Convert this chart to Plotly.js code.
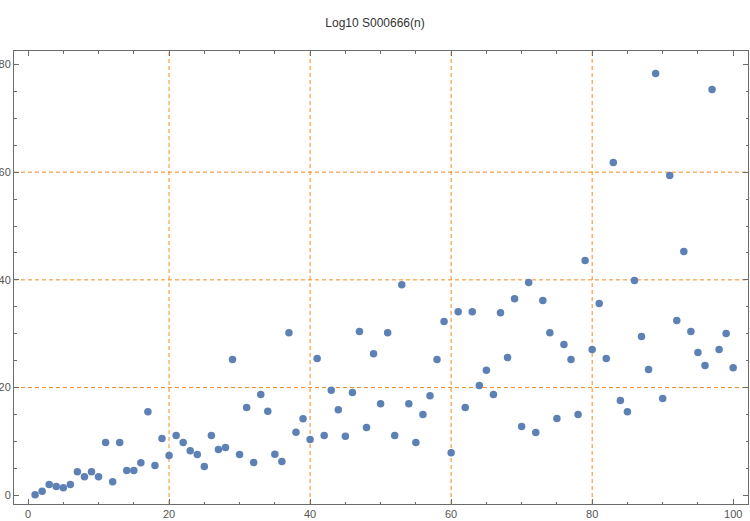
<!DOCTYPE html>
<html>
<head>
<meta charset="utf-8">
<script src="https://cdn.plot.ly/plotly-3.0.1.min.js"></script>
<style>html,body{margin:0;padding:0;background:#fff;}#chart{width:750px;height:521px;}</style>
</head>
<body>
<div id="chart"></div>
<script>
const n = Array.from({length: 100}, (_, i) => i + 1);
const log10Values = [
  0.1, 0.74, 1.98, 1.61, 1.42, 1.98, 4.39, 3.46, 4.39, 3.46,
  9.78, 2.53, 9.78, 4.58, 4.58, 6.06, 15.53, 5.51, 10.52, 7.37,
  11.08, 9.78, 8.29, 7.55, 5.33, 11.08, 8.48, 8.85, 25.2, 7.55,
  16.28, 6.1, 18.7, 15.6, 7.6, 6.25, 30.2, 11.7, 14.2, 10.34,
  25.4, 11.08, 19.5, 15.9, 10.96, 19.07, 30.4, 12.57, 26.3, 17.0,
  30.2, 11.08, 39.1, 17.0, 9.78, 14.98, 18.5, 25.2, 32.25, 7.92,
  34.1, 16.28, 34.1, 20.4, 23.2, 18.7, 33.9, 25.57, 36.5, 12.75,
  39.5, 11.64, 36.15, 30.2, 14.24, 27.98, 25.2, 14.98, 43.58, 27.05,
  35.6, 25.38, 61.8, 17.58, 15.53, 39.86, 29.47, 23.34, 78.3, 17.95,
  59.37, 32.44, 45.25, 30.4, 26.5, 24.08, 75.34, 27.05, 30.03, 23.7
];
const xTicks = [0, 20, 40, 60, 80, 100];
const yTicks = [0, 20, 40, 60, 80];
const xGrid = [20, 40, 60, 80];
const yGrid = [20, 40, 60];
const chartTitle = 'Log10 S000666(n)';

const gridColor = 'rgb(245,138,30)';
const shapes = [];
xGrid.forEach(v => shapes.push({type: 'line', xref: 'x', yref: 'paper', x0: v, x1: v, y0: 0, y1: 1,
  line: {color: gridColor, width: 1, dash: '4px,3px'}, layer: 'below'}));
yGrid.forEach(v => shapes.push({type: 'line', xref: 'paper', yref: 'y', x0: 0, x1: 1, y0: v, y1: v,
  line: {color: gridColor, width: 1, dash: '4px,3px'}, layer: 'below'}));

const axisCommon = {
  showgrid: false, zeroline: false, showline: true, linecolor: '#6b6b6b', linewidth: 1,
  mirror: 'ticks', ticks: 'inside', ticklen: 5, tickcolor: '#6b6b6b', tickwidth: 1,
  tickfont: {family: 'Liberation Sans, Arial, sans-serif', size: 11, color: '#555'},
  minor: {dtick: 5, ticks: 'inside', ticklen: 2.5, tickcolor: '#6b6b6b', tickwidth: 1, showgrid: false},
  automargin: false, fixedrange: true
};

const trace = {
  x: n, y: log10Values, type: 'scatter', mode: 'markers',
  marker: {color: '#5E81B5', size: 7.5, line: {width: 0}},
  hoverinfo: 'x+y'
};

const layout = {
  width: 750, height: 521,
  margin: {l: 14, r: 2, t: 51, b: 17, pad: 0},
  paper_bgcolor: '#fff', plot_bgcolor: '#fff',
  title: {text: chartTitle, x: 0.5, xanchor: 'center', y: 0.957, yanchor: 'middle',
    font: {family: 'Liberation Sans, Arial, sans-serif', size: 12, color: '#333'}},
  xaxis: Object.assign({}, axisCommon, {range: [-1.99, 102.1], tickvals: xTicks, ticktext: xTicks.map(String)}),
  yaxis: Object.assign({}, axisCommon, {range: [-1.62, 82.5], tickvals: yTicks, ticktext: yTicks.map(String)}),
  shapes: shapes,
  showlegend: false
};

Plotly.newPlot('chart', [trace], layout, {displayModeBar: false, staticPlot: true});
</script>
</body>
</html>
